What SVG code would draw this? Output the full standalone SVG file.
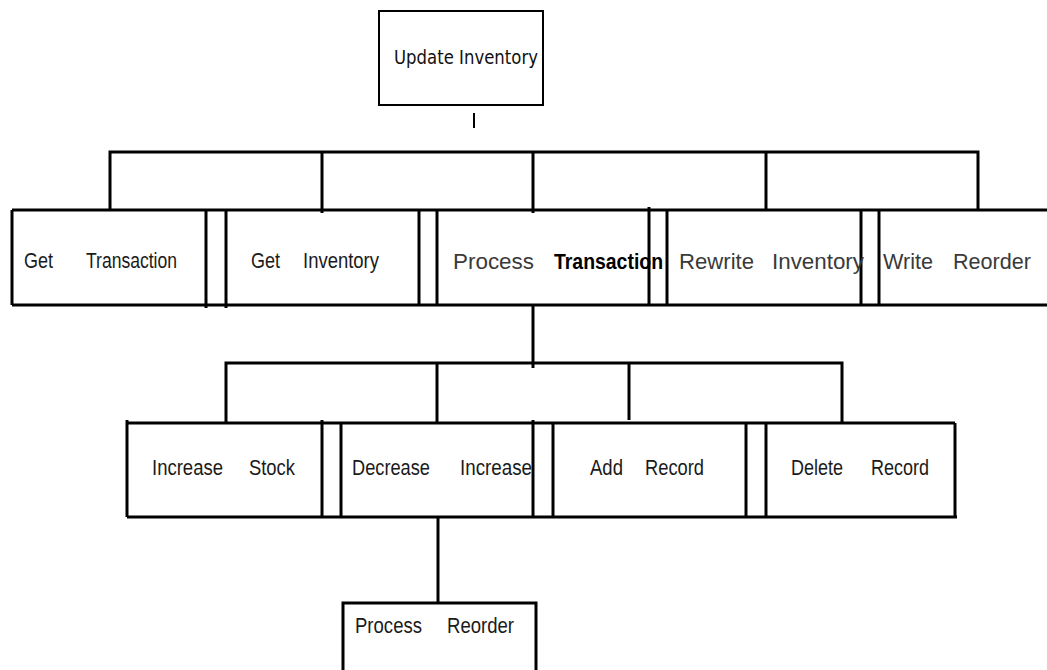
<svg xmlns="http://www.w3.org/2000/svg" width="1047" height="670" viewBox="0 0 1047 670">
  <style>
    .ln { stroke: #000; stroke-width: 3; fill: none; stroke-linecap: butt; }
    .thin { stroke: #000; stroke-width: 2; fill: none; }
    .lbl { font-family: "Liberation Sans", Arial, sans-serif; font-size: 22px; fill: #1a1a1a; }
    .wide { font-family: "Liberation Sans", Arial, sans-serif; font-size: 22px; fill: #3a3a3a; }
    .bold { font-family: "Liberation Sans", Arial, sans-serif; font-size: 22px; font-weight: bold; fill: #000; }
    .top { font-family: "DejaVu Sans", "Liberation Sans", sans-serif; font-size: 19px; fill: #111; }
  </style>
  <rect width="1047" height="670" fill="#fff"/>

  <!-- connectors -->
  <g id="connectors">
    <!-- root stub (broken) -->
    <path class="thin" d="M474 113 V128"/>
    <!-- first-level bus -->
    <path class="ln" d="M110 210 V152 H978 V210"/>
    <path class="ln" d="M322 152 V213"/>
    <path class="ln" d="M533 152 V213"/>
    <path class="ln" d="M766 152 V210"/>
    <!-- row frame lines, continuous across the gaps -->
    <path class="ln" d="M12 210 H1047"/>
    <path class="ln" d="M12 305 H1047"/>
    <!-- from Process Transaction -->
    <path class="ln" d="M533 305 V368"/>
    <!-- second-level bus -->
    <path class="ln" d="M226 423 V363 H842 V423"/>
    <path class="ln" d="M437 363 V423"/>
    <path class="ln" d="M629 363 V420"/>
    <path class="ln" d="M127 423 H955"/>
    <path class="ln" d="M127 517 H957"/>
    <!-- from Decrease Increase -->
    <path class="ln" d="M438 517 V603"/>
  </g>

  <!-- root -->
  <g id="update-inventory">
    <path class="thin" d="M379 105 V11 H543 V105 Z"/>
    <text class="top" x="394" y="64" textLength="144" lengthAdjust="spacingAndGlyphs">Update Inventory</text>
  </g>

  <!-- first level -->
  <g id="get-transaction">
    <path class="ln" d="M12 210 V305"/>
    <path class="ln" d="M206 210 V308"/>
    <text class="lbl" x="24" y="268" textLength="29" lengthAdjust="spacingAndGlyphs">Get</text>
    <text class="lbl" x="86" y="268" textLength="91" lengthAdjust="spacingAndGlyphs">Transaction</text>
  </g>
  <g id="get-inventory">
    <path class="ln" d="M226 210 V308"/>
    <path class="ln" d="M419 210 V305"/>
    <text class="lbl" x="251" y="268" textLength="29" lengthAdjust="spacingAndGlyphs">Get</text>
    <text class="lbl" x="303" y="268" textLength="76" lengthAdjust="spacingAndGlyphs">Inventory</text>
  </g>
  <g id="process-transaction">
    <path class="ln" d="M437 210 V305"/>
    <path class="ln" d="M649 207 V305"/>
    <text class="wide" x="453" y="269" textLength="81" lengthAdjust="spacingAndGlyphs">Process</text>
    <text class="bold" x="554" y="269" textLength="109" lengthAdjust="spacingAndGlyphs">Transaction</text>
  </g>
  <g id="rewrite-inventory">
    <path class="ln" d="M667 210 V305"/>
    <path class="ln" d="M861 210 V305"/>
    <text class="wide" x="679" y="269" textLength="75" lengthAdjust="spacingAndGlyphs">Rewrite</text>
    <text class="wide" x="772" y="269" textLength="92" lengthAdjust="spacingAndGlyphs">Inventory</text>
  </g>
  <g id="write-reorder">
    <path class="ln" d="M879 210 V305"/>
    <text class="wide" x="883" y="269" textLength="50" lengthAdjust="spacingAndGlyphs">Write</text>
    <text class="wide" x="953" y="269" textLength="78" lengthAdjust="spacingAndGlyphs">Reorder</text>
  </g>

  <!-- second level -->
  <g id="increase-stock">
    <path class="ln" d="M127 420 V517"/>
    <path class="ln" d="M322 420 V517"/>
    <text class="lbl" x="152" y="475" textLength="71" lengthAdjust="spacingAndGlyphs">Increase</text>
    <text class="lbl" x="249" y="475" textLength="46" lengthAdjust="spacingAndGlyphs">Stock</text>
  </g>
  <g id="decrease-increase">
    <path class="ln" d="M341 423 V517"/>
    <path class="ln" d="M533 420 V517"/>
    <text class="lbl" x="352" y="475" textLength="78" lengthAdjust="spacingAndGlyphs">Decrease</text>
    <text class="lbl" x="460" y="475" textLength="72" lengthAdjust="spacingAndGlyphs">Increase</text>
  </g>
  <g id="add-record">
    <path class="ln" d="M553 423 V517"/>
    <path class="ln" d="M746 423 V517"/>
    <text class="lbl" x="590" y="475" textLength="33" lengthAdjust="spacingAndGlyphs">Add</text>
    <text class="lbl" x="645" y="475" textLength="59" lengthAdjust="spacingAndGlyphs">Record</text>
  </g>
  <g id="delete-record">
    <path class="ln" d="M766 423 V517"/>
    <path class="ln" d="M955 423 V517"/>
    <text class="lbl" x="791" y="475" textLength="52" lengthAdjust="spacingAndGlyphs">Delete</text>
    <text class="lbl" x="871" y="475" textLength="58" lengthAdjust="spacingAndGlyphs">Record</text>
  </g>

  <!-- third level -->
  <g id="process-reorder">
    <path class="ln" d="M343 670 V603 H536 V670"/>
    <text class="lbl" x="355" y="633" textLength="67" lengthAdjust="spacingAndGlyphs">Process</text>
    <text class="lbl" x="447" y="633" textLength="67" lengthAdjust="spacingAndGlyphs">Reorder</text>
  </g>
</svg>
